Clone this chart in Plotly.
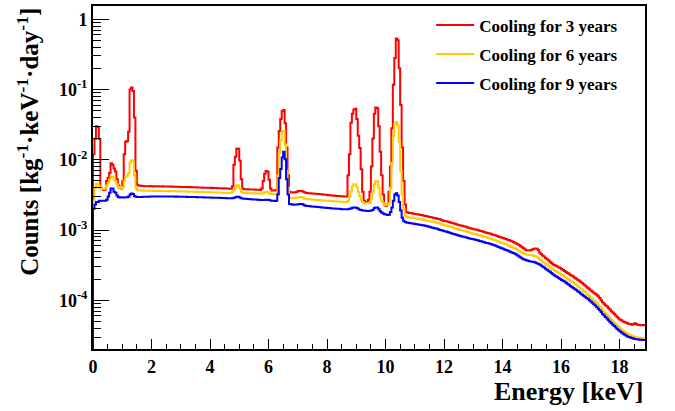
import plotly.graph_objects as go

# Histogram binning: 0.05 keV bins starting at 0 keV (378 bins, 0 - 18.9 keV)
bin_start = 0.0
bin_width = 0.05

# Cooling for 3 years (counts / kg / keV / day), one row = 0.5 keV
cool3 = [
    0.012, 0.0197, 0.03, 0.029, 0.0197, 4.0e-3, 3.8e-3, 3.7e-3, 3.8e-3, 5.0e-3,
    5.5e-3, 6.5e-3, 8.9e-3, 8.5e-3, 7.5e-3, 6.8e-3, 5.3e-3, 4.3e-3, 4.0e-3, 3.9e-3,
    5.0e-3, 0.012, 0.018, 0.0185, 0.025, 0.1, 0.107, 0.095, 0.04, 7e-3,
    4.4e-3, 4.3e-3, 4.25e-3, 4.22e-3, 4.24e-3, 4.2e-3, 4.21e-3, 4.19e-3, 4.2e-3, 4.22e-3,
    4.2e-3, 4.18e-3, 4.2e-3, 4.19e-3, 4.2e-3, 4.17e-3, 4.18e-3, 4.19e-3, 4.16e-3, 4.17e-3,
    4.16e-3, 4.15e-3, 4.17e-3, 4.14e-3, 4.15e-3, 4.13e-3, 4.14e-3, 4.12e-3, 4.13e-3, 4.11e-3,
    4.1e-3, 4.11e-3, 4.09e-3, 4.1e-3, 4.08e-3, 4.07e-3, 4.08e-3, 4.06e-3, 4.06e-3, 4.05e-3,
    4.05e-3, 4.03e-3, 4.04e-3, 4.02e-3, 4.02e-3, 4.0e-3, 4.01e-3, 3.99e-3, 3.99e-3, 3.98e-3,
    3.97e-3, 3.98e-3, 3.96e-3, 3.95e-3, 3.95e-3, 3.93e-3, 3.94e-3, 3.92e-3, 3.91e-3, 3.92e-3,
    3.9e-3, 3.89e-3, 3.9e-3, 3.88e-3, 3.87e-3, 4.2e-3, 8.5e-3, 0.011, 0.0145, 0.0143,
    9.7e-3, 5.3e-3, 3.9e-3, 3.82e-3, 3.8e-3, 3.81e-3, 3.79e-3, 3.78e-3, 3.78e-3, 3.76e-3,
    3.76e-3, 3.75e-3, 3.74e-3, 3.73e-3, 3.72e-3, 3.9e-3, 5.0e-3, 6.3e-3, 6.9e-3, 6.8e-3,
    5.2e-3, 3.9e-3, 3.66e-3, 3.65e-3, 3.64e-3, 3.7e-3, 0.015, 0.0256, 0.038, 0.049,
    0.051, 0.033, 0.015, 6e-3, 3.5e-3, 3.45e-3, 3.43e-3, 3.42e-3, 3.45e-3, 3.5e-3,
    3.58e-3, 3.6e-3, 3.6e-3, 3.57e-3, 3.45e-3, 3.38e-3, 3.36e-3, 3.34e-3, 3.33e-3, 3.31e-3,
    3.3e-3, 3.28e-3, 3.27e-3, 3.26e-3, 3.25e-3, 3.23e-3, 3.22e-3, 3.2e-3, 3.19e-3, 3.17e-3,
    3.15e-3, 3.13e-3, 3.12e-3, 3.1e-3, 3.09e-3, 3.08e-3, 3.06e-3, 3.05e-3, 3.04e-3, 3.03e-3,
    3.02e-3, 3.0e-3, 2.99e-3, 3.0e-3, 6e-3, 0.012, 0.0335, 0.045, 0.052, 0.053,
    0.038, 0.022, 0.0147, 7.3e-3, 3.5e-3, 2.6e-3, 2.5e-3, 2.5e-3, 2.7e-3, 3.5e-3,
    8e-3, 0.02, 0.045, 0.0556, 0.054, 0.03, 0.013, 6e-3, 3.2e-3, 2.3e-3,
    2.2e-3, 2.3e-3, 3.5e-3, 8e-3, 0.028, 0.117, 0.28, 0.53, 0.5, 0.2,
    0.06, 0.015, 5e-3, 2.3e-3, 1.8e-3, 1.77e-3, 1.75e-3, 1.74e-3, 1.72e-3, 1.71e-3,
    1.69e-3, 1.68e-3, 1.66e-3, 1.65e-3, 1.63e-3, 1.62e-3, 1.6e-3, 1.58e-3, 1.57e-3, 1.55e-3,
    1.53e-3, 1.52e-3, 1.5e-3, 1.48e-3, 1.47e-3, 1.45e-3, 1.43e-3, 1.41e-3, 1.39e-3, 1.36e-3,
    1.34e-3, 1.33e-3, 1.32e-3, 1.3e-3, 1.28e-3, 1.26e-3, 1.25e-3, 1.23e-3, 1.21e-3, 1.19e-3,
    1.17e-3, 1.16e-3, 1.15e-3, 1.13e-3, 1.12e-3, 1.1e-3, 1.08e-3, 1.07e-3, 1.05e-3, 1.04e-3,
    1.03e-3, 1.02e-3, 1.01e-3, 9.95e-4, 9.8e-4, 9.65e-4, 9.5e-4, 9.4e-4, 9.25e-4, 9.1e-4,
    9.0e-4, 8.9e-4, 8.75e-4, 8.6e-4, 8.5e-4, 8.35e-4, 8.2e-4, 8.05e-4, 7.9e-4, 7.8e-4,
    7.7e-4, 7.6e-4, 7.45e-4, 7.3e-4, 7.2e-4, 7.05e-4, 6.9e-4, 6.75e-4, 6.6e-4, 6.45e-4,
    6.3e-4, 6.1e-4, 5.9e-4, 5.7e-4, 5.5e-4, 5.3e-4, 5.15e-4, 5.1e-4, 5.1e-4, 5.2e-4,
    5.3e-4, 5.4e-4, 5.45e-4, 5.4e-4, 5.2e-4, 4.8e-4, 4.55e-4, 4.35e-4, 4.2e-4, 4.0e-4,
    3.85e-4, 3.7e-4, 3.55e-4, 3.4e-4, 3.25e-4, 3.18e-4, 3.1e-4, 3.02e-4, 2.95e-4, 2.87e-4,
    2.78e-4, 2.7e-4, 2.62e-4, 2.53e-4, 2.45e-4, 2.38e-4, 2.3e-4, 2.24e-4, 2.18e-4, 2.1e-4,
    2.02e-4, 1.96e-4, 1.9e-4, 1.83e-4, 1.76e-4, 1.69e-4, 1.62e-4, 1.56e-4, 1.5e-4, 1.44e-4,
    1.38e-4, 1.33e-4, 1.28e-4, 1.24e-4, 1.2e-4, 1.14e-4, 1.08e-4, 1.0e-4, 9.4e-5, 8.9e-5,
    8.5e-5, 8.2e-5, 7.8e-5, 7.4e-5, 7.0e-5, 6.7e-5, 6.4e-5, 6.1e-5, 5.8e-5, 5.5e-5,
    5.3e-5, 5.2e-5, 5.0e-5, 4.9e-5, 4.8e-5, 4.7e-5, 4.6e-5, 4.6e-5, 4.5e-5, 4.55e-5,
    4.7e-5, 4.6e-5, 4.5e-5, 4.45e-5, 4.4e-5, 4.45e-5, 4.4e-5, 4.45e-5,
]

# Cooling for 6 years
cool6 = [
    2.6e-3, 4.0e-3, 4.6e-3, 4.5e-3, 4.2e-3, 3.9e-3, 3.85e-3, 3.85e-3, 3.9e-3, 4.3e-3,
    4.7e-3, 5.2e-3, 5.8e-3, 5.7e-3, 5.2e-3, 5.0e-3, 4.5e-3, 4.1e-3, 4.0e-3, 3.95e-3,
    4.1e-3, 5.0e-3, 5.8e-3, 5.9e-3, 6.5e-3, 9.0e-3, 9.8e-3, 9.5e-3, 6.0e-3, 4.0e-3,
    3.7e-3, 3.66e-3, 3.64e-3, 3.63e-3, 3.64e-3, 3.62e-3, 3.63e-3, 3.61e-3, 3.62e-3, 3.62e-3,
    3.62e-3, 3.6e-3, 3.61e-3, 3.6e-3, 3.61e-3, 3.59e-3, 3.6e-3, 3.58e-3, 3.59e-3, 3.58e-3,
    3.58e-3, 3.57e-3, 3.58e-3, 3.56e-3, 3.57e-3, 3.56e-3, 3.55e-3, 3.56e-3, 3.54e-3, 3.55e-3,
    3.54e-3, 3.53e-3, 3.54e-3, 3.52e-3, 3.53e-3, 3.51e-3, 3.52e-3, 3.5e-3, 3.51e-3, 3.5e-3,
    3.49e-3, 3.5e-3, 3.48e-3, 3.48e-3, 3.47e-3, 3.47e-3, 3.46e-3, 3.46e-3, 3.45e-3, 3.45e-3,
    3.44e-3, 3.44e-3, 3.43e-3, 3.43e-3, 3.42e-3, 3.42e-3, 3.41e-3, 3.41e-3, 3.4e-3, 3.4e-3,
    3.39e-3, 3.4e-3, 3.38e-3, 3.38e-3, 3.38e-3, 3.45e-3, 3.7e-3, 4.0e-3, 4.35e-3, 4.3e-3,
    3.9e-3, 3.5e-3, 3.38e-3, 3.36e-3, 3.36e-3, 3.35e-3, 3.35e-3, 3.34e-3, 3.33e-3, 3.33e-3,
    3.32e-3, 3.31e-3, 3.3e-3, 3.3e-3, 3.29e-3, 3.3e-3, 3.35e-3, 3.42e-3, 3.5e-3, 3.48e-3,
    3.35e-3, 3.27e-3, 3.25e-3, 3.24e-3, 3.23e-3, 3.25e-3, 6e-3, 0.0126, 0.019, 0.025,
    0.0256, 0.0165, 7e-3, 4e-3, 2.88e-3, 2.85e-3, 2.84e-3, 2.83e-3, 2.85e-3, 2.88e-3,
    2.93e-3, 2.95e-3, 2.95e-3, 2.92e-3, 2.82e-3, 2.78e-3, 2.76e-3, 2.75e-3, 2.74e-3, 2.72e-3,
    2.71e-3, 2.7e-3, 2.69e-3, 2.68e-3, 2.67e-3, 2.66e-3, 2.65e-3, 2.64e-3, 2.63e-3, 2.62e-3,
    2.61e-3, 2.6e-3, 2.59e-3, 2.58e-3, 2.57e-3, 2.56e-3, 2.55e-3, 2.55e-3, 2.54e-3, 2.53e-3,
    2.52e-3, 2.51e-3, 2.5e-3, 2.5e-3, 2.6e-3, 3.0e-3, 3.6e-3, 4.2e-3, 4.5e-3, 4.5e-3,
    4.1e-3, 3.5e-3, 3.0e-3, 2.7e-3, 2.5e-3, 2.43e-3, 2.4e-3, 2.4e-3, 2.42e-3, 2.45e-3,
    2.8e-3, 3.5e-3, 4.5e-3, 5.0e-3, 4.9e-3, 4.0e-3, 3.0e-3, 2.6e-3, 2.4e-3, 2.3e-3,
    2.25e-3, 2.3e-3, 2.4e-3, 4e-3, 9e-3, 0.022, 0.032, 0.0344, 0.031, 0.018,
    7e-3, 3.2e-3, 2.0e-3, 1.6e-3, 1.53e-3, 1.52e-3, 1.51e-3, 1.5e-3, 1.49e-3, 1.48e-3,
    1.47e-3, 1.46e-3, 1.44e-3, 1.43e-3, 1.42e-3, 1.41e-3, 1.39e-3, 1.38e-3, 1.36e-3, 1.35e-3,
    1.33e-3, 1.32e-3, 1.31e-3, 1.29e-3, 1.28e-3, 1.26e-3, 1.25e-3, 1.23e-3, 1.21e-3, 1.19e-3,
    1.17e-3, 1.16e-3, 1.14e-3, 1.13e-3, 1.11e-3, 1.1e-3, 1.08e-3, 1.06e-3, 1.05e-3, 1.03e-3,
    1.01e-3, 1.0e-3, 9.9e-4, 9.75e-4, 9.6e-4, 9.5e-4, 9.35e-4, 9.2e-4, 9.1e-4, 8.95e-4,
    8.85e-4, 8.75e-4, 8.65e-4, 8.5e-4, 8.4e-4, 8.3e-4, 8.15e-4, 8.05e-4, 7.95e-4, 7.8e-4,
    7.7e-4, 7.6e-4, 7.45e-4, 7.35e-4, 7.2e-4, 7.1e-4, 6.95e-4, 6.85e-4, 6.7e-4, 6.6e-4,
    6.5e-4, 6.35e-4, 6.25e-4, 6.1e-4, 6.0e-4, 5.85e-4, 5.75e-4, 5.6e-4, 5.5e-4, 5.35e-4,
    5.2e-4, 5.05e-4, 4.9e-4, 4.75e-4, 4.65e-4, 4.55e-4, 4.5e-4, 4.45e-4, 4.42e-4, 4.4e-4,
    4.37e-4, 4.32e-4, 4.25e-4, 4.15e-4, 4.0e-4, 3.85e-4, 3.7e-4, 3.55e-4, 3.42e-4, 3.3e-4,
    3.2e-4, 3.08e-4, 2.95e-4, 2.85e-4, 2.75e-4, 2.68e-4, 2.6e-4, 2.52e-4, 2.45e-4, 2.37e-4,
    2.3e-4, 2.24e-4, 2.17e-4, 2.1e-4, 2.02e-4, 1.96e-4, 1.9e-4, 1.84e-4, 1.78e-4, 1.72e-4,
    1.65e-4, 1.59e-4, 1.52e-4, 1.47e-4, 1.42e-4, 1.36e-4, 1.3e-4, 1.25e-4, 1.2e-4, 1.15e-4,
    1.1e-4, 1.05e-4, 1.0e-4, 9.6e-5, 9.2e-5, 8.7e-5, 8.2e-5, 7.7e-5, 7.3e-5, 6.9e-5,
    6.6e-5, 6.2e-5, 5.9e-5, 5.6e-5, 5.3e-5, 5.0e-5, 4.8e-5, 4.6e-5, 4.4e-5, 4.2e-5,
    4.0e-5, 3.85e-5, 3.7e-5, 3.55e-5, 3.45e-5, 3.35e-5, 3.25e-5, 3.18e-5, 3.1e-5, 3.05e-5,
    3.0e-5, 2.97e-5, 2.95e-5, 2.93e-5, 2.9e-5, 2.9e-5, 2.88e-5, 2.9e-5,
]

# Cooling for 9 years
cool9 = [
    2.0e-3, 2.3e-3, 2.5e-3, 2.5e-3, 2.6e-3, 2.62e-3, 2.6e-3, 2.61e-3, 2.6e-3, 2.7e-3,
    3.0e-3, 3.4e-3, 3.9e-3, 3.9e-3, 3.5e-3, 3.4e-3, 3.1e-3, 2.95e-3, 2.9e-3, 2.92e-3,
    2.9e-3, 2.91e-3, 2.92e-3, 2.93e-3, 3.0e-3, 3.2e-3, 3.3e-3, 3.25e-3, 3.05e-3, 2.97e-3,
    2.95e-3, 2.95e-3, 2.96e-3, 2.96e-3, 2.97e-3, 2.97e-3, 2.98e-3, 2.98e-3, 2.98e-3, 2.99e-3,
    2.99e-3, 3.0e-3, 2.99e-3, 3.0e-3, 3.0e-3, 3.01e-3, 3.0e-3, 3.0e-3, 3.01e-3, 3.0e-3,
    3.0e-3, 3.0e-3, 2.99e-3, 3.0e-3, 2.99e-3, 2.99e-3, 2.98e-3, 2.99e-3, 2.98e-3, 2.98e-3,
    2.98e-3, 2.97e-3, 2.97e-3, 2.97e-3, 2.96e-3, 2.96e-3, 2.95e-3, 2.95e-3, 2.95e-3, 2.94e-3,
    2.94e-3, 2.93e-3, 2.93e-3, 2.93e-3, 2.92e-3, 2.92e-3, 2.91e-3, 2.91e-3, 2.91e-3, 2.9e-3,
    2.9e-3, 2.89e-3, 2.89e-3, 2.88e-3, 2.88e-3, 2.87e-3, 2.87e-3, 2.86e-3, 2.86e-3, 2.85e-3,
    2.85e-3, 2.84e-3, 2.84e-3, 2.83e-3, 2.83e-3, 2.84e-3, 2.88e-3, 2.93e-3, 2.98e-3, 2.97e-3,
    2.9e-3, 2.83e-3, 2.8e-3, 2.79e-3, 2.78e-3, 2.77e-3, 2.76e-3, 2.75e-3, 2.74e-3, 2.73e-3,
    2.72e-3, 2.71e-3, 2.7e-3, 2.69e-3, 2.68e-3, 2.67e-3, 2.67e-3, 2.68e-3, 2.7e-3, 2.7e-3,
    2.67e-3, 2.63e-3, 2.61e-3, 2.6e-3, 2.59e-3, 2.6e-3, 3.2e-3, 5.5e-3, 7.4e-3, 0.0108,
    0.013, 0.0102, 5.3e-3, 3.2e-3, 2.35e-3, 2.32e-3, 2.3e-3, 2.29e-3, 2.3e-3, 2.31e-3,
    2.33e-3, 2.35e-3, 2.34e-3, 2.32e-3, 2.25e-3, 2.22e-3, 2.2e-3, 2.19e-3, 2.18e-3, 2.17e-3,
    2.16e-3, 2.15e-3, 2.14e-3, 2.13e-3, 2.12e-3, 2.11e-3, 2.1e-3, 2.09e-3, 2.08e-3, 2.07e-3,
    2.06e-3, 2.05e-3, 2.04e-3, 2.03e-3, 2.03e-3, 2.02e-3, 2.01e-3, 2.0e-3, 2.0e-3, 1.99e-3,
    1.98e-3, 1.98e-3, 1.97e-3, 1.97e-3, 1.98e-3, 2.0e-3, 2.03e-3, 2.07e-3, 2.1e-3, 2.1e-3,
    2.06e-3, 2.0e-3, 1.95e-3, 1.92e-3, 1.9e-3, 1.89e-3, 1.88e-3, 1.87e-3, 1.87e-3, 1.88e-3,
    1.9e-3, 1.95e-3, 2.05e-3, 2.1e-3, 2.1e-3, 1.98e-3, 1.85e-3, 1.78e-3, 1.72e-3, 1.68e-3,
    1.66e-3, 1.64e-3, 1.65e-3, 1.8e-3, 2.1e-3, 2.6e-3, 3.2e-3, 3.35e-3, 3.1e-3, 2.5e-3,
    1.9e-3, 1.5e-3, 1.35e-3, 1.3e-3, 1.28e-3, 1.27e-3, 1.26e-3, 1.25e-3, 1.24e-3, 1.23e-3,
    1.22e-3, 1.21e-3, 1.2e-3, 1.19e-3, 1.18e-3, 1.17e-3, 1.16e-3, 1.15e-3, 1.13e-3, 1.12e-3,
    1.1e-3, 1.09e-3, 1.08e-3, 1.06e-3, 1.05e-3, 1.04e-3, 1.02e-3, 1.0e-3, 9.9e-4, 9.75e-4,
    9.6e-4, 9.5e-4, 9.35e-4, 9.2e-4, 9.1e-4, 8.95e-4, 8.8e-4, 8.7e-4, 8.55e-4, 8.4e-4,
    8.3e-4, 8.2e-4, 8.1e-4, 8.0e-4, 7.9e-4, 7.8e-4, 7.7e-4, 7.6e-4, 7.5e-4, 7.45e-4,
    7.4e-4, 7.3e-4, 7.2e-4, 7.1e-4, 7.0e-4, 6.9e-4, 6.8e-4, 6.7e-4, 6.6e-4, 6.55e-4,
    6.5e-4, 6.4e-4, 6.3e-4, 6.15e-4, 6.05e-4, 5.95e-4, 5.85e-4, 5.75e-4, 5.6e-4, 5.5e-4,
    5.4e-4, 5.3e-4, 5.2e-4, 5.1e-4, 5.0e-4, 4.9e-4, 4.8e-4, 4.7e-4, 4.6e-4, 4.5e-4,
    4.35e-4, 4.2e-4, 4.05e-4, 3.95e-4, 3.85e-4, 3.78e-4, 3.7e-4, 3.65e-4, 3.6e-4, 3.58e-4,
    3.55e-4, 3.5e-4, 3.45e-4, 3.38e-4, 3.3e-4, 3.22e-4, 3.12e-4, 3.02e-4, 2.92e-4, 2.82e-4,
    2.73e-4, 2.63e-4, 2.55e-4, 2.45e-4, 2.35e-4, 2.28e-4, 2.2e-4, 2.14e-4, 2.08e-4, 2.01e-4,
    1.95e-4, 1.9e-4, 1.85e-4, 1.78e-4, 1.72e-4, 1.66e-4, 1.6e-4, 1.55e-4, 1.5e-4, 1.45e-4,
    1.4e-4, 1.35e-4, 1.3e-4, 1.25e-4, 1.2e-4, 1.16e-4, 1.12e-4, 1.08e-4, 1.05e-4, 1.0e-4,
    9.6e-5, 9.2e-5, 8.8e-5, 8.4e-5, 8.0e-5, 7.6e-5, 7.2e-5, 6.8e-5, 6.4e-5, 6.1e-5,
    5.8e-5, 5.5e-5, 5.2e-5, 4.95e-5, 4.7e-5, 4.5e-5, 4.3e-5, 4.1e-5, 3.9e-5, 3.75e-5,
    3.6e-5, 3.48e-5, 3.35e-5, 3.25e-5, 3.15e-5, 3.05e-5, 3.0e-5, 2.95e-5, 2.9e-5, 2.85e-5,
    2.82e-5, 2.8e-5, 2.78e-5, 2.75e-5, 2.74e-5, 2.72e-5, 2.72e-5, 2.73e-5,
]

series_names = ["Cooling for 3 years", "Cooling for 6 years", "Cooling for 9 years"]
series_colors = ["#ff0000", "#ffcc00", "#0000ff"]

y_tick_vals = [1e-4, 1e-3, 1e-2, 1e-1, 1]
y_tick_text = ["10<sup>-4</sup>", "10<sup>-3</sup>", "10<sup>-2</sup>", "10<sup>-1</sup>", "1"]

FONT = "Liberation Serif"


def step_xy(values):
    n = len(values)
    edges = [round(bin_start + i * bin_width, 4) for i in range(n + 1)]
    # histogram outline rises from the baseline at the first edge
    xs = [edges[0]] + edges
    ys = [1e-9] + list(values) + [values[-1]]
    return xs, ys


fig = go.Figure()
for vals, name, col in zip([cool3, cool6, cool9], series_names, series_colors):
    xs, ys = step_xy(vals)
    fig.add_trace(go.Scatter(
        x=xs, y=ys, mode="lines", name=name,
        line=dict(color=col, width=2, shape="hv"),
        legendgroup=name,
    ))

fig.update_layout(
    width=675, height=411,
    margin=dict(l=93, r=30, t=4, b=62),
    paper_bgcolor="white", plot_bgcolor="white",
    font=dict(family=FONT, color="black"),
    showlegend=True,
    legend=dict(
        x=0.6126, y=0.996, xanchor="left", yanchor="top",
        bgcolor="rgba(0,0,0,0)", borderwidth=0,
        font=dict(family=FONT, size=17, color="black", weight="bold"),
        tracegroupgap=4, itemwidth=38,
    ),
)

fig.update_xaxes(
    range=[0, 18.87], dtick=2, tick0=0,
    ticks="inside", ticklen=10, tickwidth=1, tickcolor="black",
    showline=True, linewidth=2, linecolor="black", mirror=True,
    showgrid=False, zeroline=False,
    tickfont=dict(family=FONT, size=18, color="black", weight="bold"),
    minor=dict(ticks="inside", ticklen=5, dtick=0.5, tickcolor="black", showgrid=False),
)

fig.update_yaxes(
    type="log", range=[-4.693, 0.188],
    tickvals=y_tick_vals, ticktext=y_tick_text,
    ticks="inside", ticklen=16, tickwidth=1, tickcolor="black",
    showline=True, linewidth=2, linecolor="black", mirror=True,
    showgrid=False, zeroline=False,
    tickfont=dict(family=FONT, size=18, color="black", weight="bold"),
    minor=dict(ticks="inside", ticklen=8, dtick="D1", tickcolor="black", showgrid=False),
)

fig.add_annotation(
    text="Energy [keV]", xref="paper", yref="paper",
    x=1.0, y=-0.123, xanchor="right", yanchor="middle", showarrow=False,
    font=dict(family=FONT, size=26, color="black", weight="bold"),
)

fig.add_annotation(
    text="Counts [kg<sup>-1</sup>·keV<sup>-1</sup>·day<sup>-1</sup>]",
    xref="paper", yref="paper",
    x=-0.118, y=1.0, xanchor="center", yanchor="top", showarrow=False,
    textangle=-90,
    font=dict(family=FONT, size=25, color="black", weight="bold"),
)

fig.write_html("out.html")
